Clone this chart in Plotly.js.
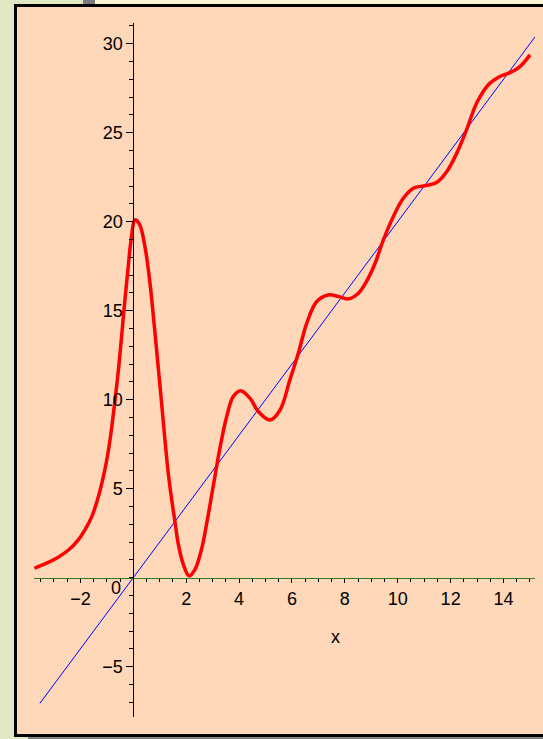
<!DOCTYPE html>
<html>
<head>
<meta charset="utf-8">
<script src="https://cdn.plot.ly/plotly-3.0.1.min.js"></script>
<style>
  html, body { margin: 0; padding: 0; background: #E1E6C3; }
  #plot { width: 543px; height: 739px; }
</style>
</head>
<body>
<div id="plot"></div>
<script>
// Red curve: sampled points of the oscillating function
var curveX = [-3.74, -3.3, -2.84, -2.45, -2.08, -1.83, -1.57, -1.38, -1.19, -1.01, -0.88, -0.79,
              -0.69, -0.54, -0.44, -0.31, -0.19, -0.09, 0.07, 0.25, 0.44, 0.57, 0.70, 0.82,
              0.95, 1.07, 1.20, 1.32, 1.45, 1.58, 1.70, 1.89, 2.11, 2.33, 2.59, 2.77,
              3.03, 3.28, 3.53, 3.78, 4.06, 4.41, 4.73, 5.17, 5.55, 5.92, 6.24, 6.56,
              6.93, 7.37, 7.75, 8.13, 8.51, 8.82, 9.14, 9.45, 9.83, 10.21, 10.59, 11.03,
              11.47, 11.85, 12.23, 12.6, 12.98, 13.42, 13.86, 14.24, 14.62, 15.0];
var curveY = [0.53, 0.8, 1.15, 1.55, 2.12, 2.68, 3.43, 4.25, 5.30, 6.55, 7.74, 8.75,
              9.98, 12.0, 13.6, 15.7, 17.5, 18.9, 20.1, 19.8, 18.6, 17.3, 15.6, 13.75,
              11.7, 9.8, 7.7, 5.9, 4.4, 3.1, 1.9, 0.75, 0.1, 0.45, 1.65, 3.0,
              5.2, 7.3, 9.04, 10.17, 10.5, 10.08, 9.33, 8.86, 9.42, 11.1, 12.6, 14.3,
              15.5, 15.88, 15.8, 15.66, 15.98, 16.65, 17.65, 18.95, 20.28, 21.31, 21.88, 22.02,
              22.2, 22.8, 23.84, 25.15, 26.65, 27.68, 28.15, 28.37, 28.71, 29.37];

// Blue line y = 2x endpoints
var lineX = [-3.53, 15.19];
var lineY = [-7.06, 30.38];

// Axis ticks
var xTicks = [-2, 2, 4, 6, 8, 10, 12, 14];
var yTicks = [-5, 5, 10, 15, 20, 25, 30];

var xRange = [-3.755, 15.19];
var yRange = [-7.83, 31.16];

var W = 543, H = 739;
var M = { l: 34, r: 8, t: 23, b: 22 };
var pw = W - M.l - M.r, ph = H - M.t - M.b;
function px(x) { return (x - M.l) / pw; }
function py(y) { return (H - M.b - y) / ph; }

var tickFont = { family: 'Liberation Sans, Arial, sans-serif', size: 18, color: '#000' };

var traces = [
  { x: lineX, y: lineY, type: 'scatter', mode: 'lines',
    line: { color: '#0000FF', width: 1 }, hoverinfo: 'skip' },
  { x: curveX, y: curveY, type: 'scatter', mode: 'lines',
    line: { color: '#FF0000', width: 3.5, shape: 'spline', smoothing: 1 }, hoverinfo: 'skip' }
];

var layout = {
  width: W, height: H,
  margin: M,
  paper_bgcolor: '#E1E6C3',
  plot_bgcolor: 'rgba(0,0,0,0)',
  showlegend: false,
  xaxis: {
    range: xRange, anchor: 'free',
    position: (0 - yRange[0]) / (yRange[1] - yRange[0]),
    showline: true, linecolor: '#3C7A22', linewidth: 1.5,
    showgrid: false, zeroline: false,
    tickmode: 'array', tickvals: xTicks,
    ticks: 'outside', ticklen: 4, tickwidth: 1, tickcolor: '#000',
    minor: { tickmode: 'linear', tick0: 0, dtick: 0.5, ticks: 'outside', ticklen: 3, tickcolor: '#000', tickwidth: 1 },
    tickfont: tickFont
  },
  yaxis: {
    range: yRange, anchor: 'free',
    position: (0 - xRange[0]) / (xRange[1] - xRange[0]),
    showline: true, linecolor: '#000', linewidth: 1,
    showgrid: false, zeroline: false,
    tickmode: 'array', tickvals: yTicks,
    ticks: 'outside', ticklen: 7, tickwidth: 1, tickcolor: '#000',
    minor: { tickmode: 'linear', tick0: 0, dtick: 1, ticks: 'outside', ticklen: 4, tickcolor: '#000', tickwidth: 1 },
    tickfont: tickFont
  },
  annotations: [
    { x: 0, y: 0, xref: 'x', yref: 'y', text: '0', showarrow: false,
      xanchor: 'right', yanchor: 'top', xshift: -10, yshift: 2, font: tickFont },
    { x: 7.63, y: -3.33, xref: 'x', yref: 'y', text: 'x', showarrow: false,
      xanchor: 'center', yanchor: 'middle', font: tickFont }
  ],
  shapes: [
    // peach panel with black frame
    { type: 'rect', xref: 'paper', yref: 'paper', layer: 'below',
      x0: px(15.5), x1: px(620), y0: py(735.5), y1: py(5.5),
      fillcolor: '#FFD7B9', line: { color: '#000', width: 3 } },
    // shadow strip under the frame
    { type: 'rect', xref: 'paper', yref: 'paper', layer: 'below',
      x0: px(28), x1: px(620), y0: py(745), y1: py(737),
      fillcolor: '#808080', line: { width: 0 } },
    // top strips
    { type: 'rect', xref: 'paper', yref: 'paper', layer: 'below',
      x0: px(83), x1: px(95), y0: py(4), y1: py(-5),
      fillcolor: '#7A7A7A', line: { width: 0 } },
    { type: 'rect', xref: 'paper', yref: 'paper', layer: 'below',
      x0: px(95), x1: px(620), y0: py(4), y1: py(-5),
      fillcolor: '#FDF7D6', line: { width: 0 } }
  ]
};

Plotly.newPlot('plot', traces, layout, { staticPlot: true, displayModeBar: false });
</script>
</body>
</html>
